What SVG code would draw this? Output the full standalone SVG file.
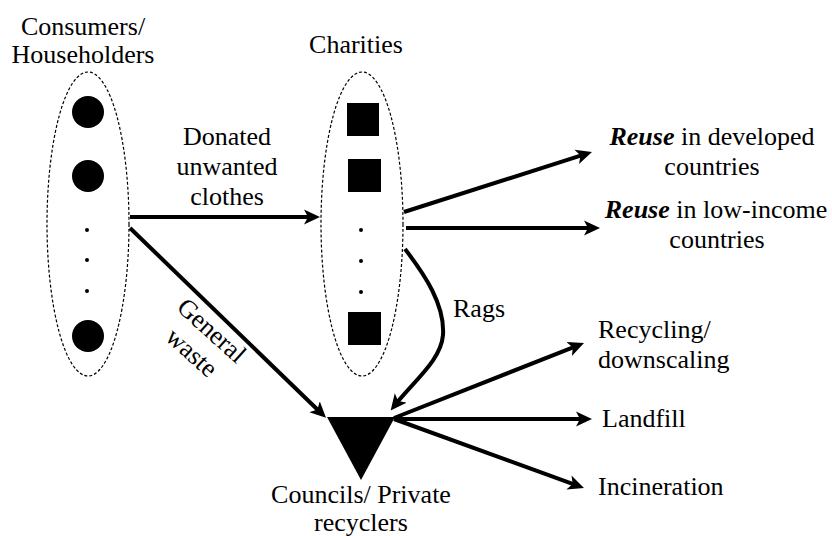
<svg xmlns="http://www.w3.org/2000/svg" width="832" height="536" viewBox="0 0 832 536">
<style>
text{font-family:"Liberation Serif","Times New Roman",Times,Tinos,"Nimbus Roman","Nimbus Roman No9 L","FreeSerif","Noto Serif","DejaVu Serif",serif;font-size:26px;fill:#000}
.c{text-anchor:middle}
.b{font-weight:bold;font-style:italic}
.grp{fill:none;stroke:#000;stroke-width:1.2;stroke-dasharray:3,2}
.e{fill:none;stroke:#000;stroke-width:4}
</style>
<defs>
<marker id="ah" markerUnits="userSpaceOnUse" markerWidth="16" markerHeight="16" viewBox="0 0 16 16" refX="9" refY="8" orient="auto">
<path d="M0,0.5 L16,8 L0,15.5 L4,8 z" fill="#000"/>
</marker>
</defs>
<rect width="832" height="536" fill="#fff"/>
<g id="consumers">
<ellipse class="grp" cx="88" cy="224" rx="41" ry="152"/>
<circle cx="88" cy="112" r="16"/>
<circle cx="88" cy="176" r="16"/>
<circle cx="87" cy="230" r="2"/>
<circle cx="87" cy="260" r="2"/>
<circle cx="87" cy="291" r="2"/>
<circle cx="88" cy="336" r="16"/>
<text class="c" x="83" y="35">Consumers/</text>
<text class="c" x="83" y="63">Householders</text>
</g>
<g id="charities">
<ellipse class="grp" cx="362" cy="224" rx="41" ry="152"/>
<rect x="347" y="103" width="32" height="33"/>
<rect x="348" y="159" width="33" height="33"/>
<circle cx="361" cy="230" r="2"/>
<circle cx="361" cy="261" r="2"/>
<circle cx="361" cy="292" r="2"/>
<rect x="348" y="312" width="33" height="33"/>
<text class="c" x="356" y="53">Charities</text>
</g>
<g id="councils">
<polygon points="327,417 395,417 361,480"/>
<text class="c" x="361" y="503">Councils/ Private</text>
<text class="c" x="361" y="531">recyclers</text>
</g>
<g id="reuse-developed">
<text class="c" x="712" y="145"><tspan class="b">Reuse</tspan> in developed</text>
<text class="c" x="712" y="175">countries</text>
</g>
<g id="reuse-low">
<text class="c" x="716" y="218"><tspan class="b">Reuse</tspan> in low-income</text>
<text class="c" x="717" y="248">countries</text>
</g>
<g id="recycling">
<text x="598" y="338">Recycling/</text>
<text x="598" y="368">downscaling</text>
</g>
<g id="landfill">
<text x="602" y="427">Landfill</text>
</g>
<g id="incineration">
<text x="598" y="495">Incineration</text>
</g>
<g id="connectors">
<line class="e" x1="130" y1="217" x2="313" y2="217" marker-end="url(#ah)"/>
<line class="e" x1="130" y1="228" x2="321" y2="413" marker-end="url(#ah)"/>
<line class="e" x1="404" y1="212" x2="585.3" y2="154.1" marker-end="url(#ah)"/>
<line class="e" x1="406" y1="228" x2="593" y2="228" marker-end="url(#ah)"/>
<path class="e" d="M405,249 C425,275 445,305 443,335 C441,360 415,380 395,405" marker-end="url(#ah)"/>
<line class="e" x1="394" y1="418" x2="577.5" y2="345.6" marker-end="url(#ah)"/>
<line class="e" x1="395" y1="419" x2="585" y2="419" marker-end="url(#ah)"/>
<line class="e" x1="394" y1="419" x2="577.4" y2="485.6" marker-end="url(#ah)"/>
<text class="c" transform="translate(212,330) rotate(42)" y="9">General</text>
<text class="c" transform="translate(192,352) rotate(42)" y="9">waste</text>
<text class="c" x="227" y="145">Donated</text>
<text class="c" x="227" y="175">unwanted</text>
<text class="c" x="227" y="205">clothes</text>
<text x="453" y="317">Rags</text>
</g>
</svg>
